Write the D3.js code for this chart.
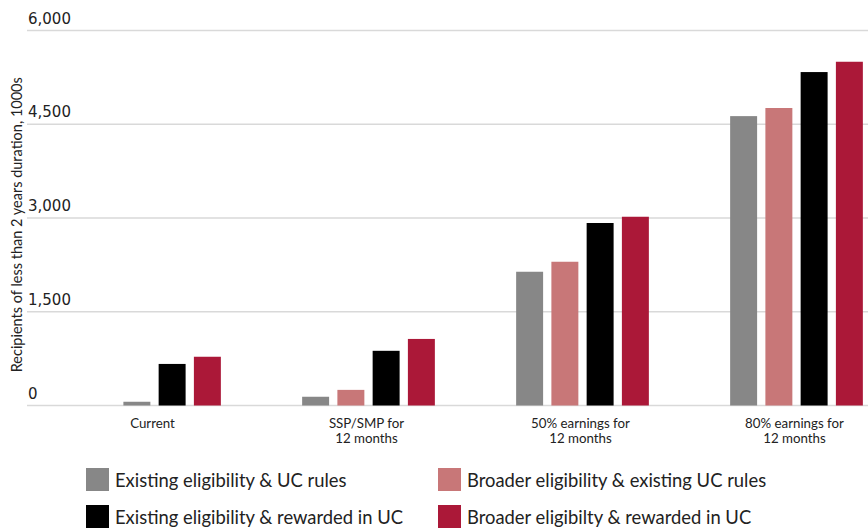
<!DOCTYPE html>
<html>
<head>
<meta charset="utf-8">
<script src="https://cdn.jsdelivr.net/npm/d3@7"></script>
<style>
  body { margin: 0; background: #fff; }
  text { font-family: Lato, "Liberation Sans", sans-serif; fill: #222; }
</style>
</head>
<body>
<div id="chart"></div>
<script>
// Categories and series
const categories = ["Current", "SSP/SMP for\n12 months", "50% earnings for\n12 months", "80% earnings for\n12 months"];
const seriesNames = [
    "Existing eligibility & UC rules",
    "Broader eligibility & existing UC rules",
    "Existing eligibility & rewarded in UC",
    "Broader eligibilty & rewarded in UC"
];
const seriesColors = ["#878787", "#c87778", "#000000", "#ab1838"];

// Values, 1000s (one array per series, in category order)
const existingRules = [null, 140, 2140, 4630];
const broaderRules = [60, 250, 2300, 4760];
const existingRewarded = [665, 875, 2920, 5335];
const broaderRewarded = [780, 1065, 3020, 5500];
const seriesValues = [existingRules, broaderRules, existingRewarded, broaderRewarded];

// In the source, the small "Current" bar in the second slot is drawn grey
const colorOverride = { "0-1": "#878787" };

const yTicks = [0, 1500, 3000, 4500, 6000];

const W = 868, H = 528;
const svg = d3.select("#chart").append("svg")
    .attr("width", W)
    .attr("height", H);

const y = d3.scaleLinear()
    .domain([0, 6000])
    .range([405.5, 30.5]);

const x0 = d3.scaleBand()
    .domain(categories)
    .range([47.5, 903.5])
    .padding(0);

const x1 = d3.scaleBand()
    .domain(d3.range(seriesNames.length))
    .range([0, 141])
    .paddingInner(0.235)
    .paddingOuter(0.1175);

// Gridlines with labels above them
const grid = svg.append("g");
grid.selectAll("line")
    .data(yTicks)
    .enter().append("line")
    .attr("x1", 27)
    .attr("x2", W)
    .attr("y1", d => y(d))
    .attr("y2", d => y(d))
    .attr("stroke", "#d9d9d9")
    .attr("stroke-width", 1.3);

grid.selectAll("text")
    .data(yTicks)
    .enter().append("text")
    .attr("x", 28)
    .attr("y", d => y(d) - 7)
    .attr("font-size", 15)
    .style("font-family", "'DejaVu Sans', sans-serif")
    .text(d => d3.format(",")(d));

// Y axis title
svg.append("text")
    .attr("transform", `translate(22,${(y(0) + 40) / 2 + 2}) rotate(-90)`)
    .attr("text-anchor", "middle")
    .attr("font-size", 14.5)
    .text("Recipients of less than 2 years duration, 1000s");

// Bars
const bars = [];
categories.forEach((c, ci) => {
    seriesValues.forEach((vals, si) => {
        if (vals[ci] != null) bars.push({ ci, si, cat: c, value: vals[ci] });
    });
});

svg.append("g").selectAll("rect")
    .data(bars)
    .enter().append("rect")
    .attr("x", d => x0(d.cat) + x0.bandwidth() / 2 - 70.5 + x1(d.si))
    .attr("width", x1.bandwidth())
    .attr("y", d => y(d.value))
    .attr("height", d => y(0) - y(d.value))
    .attr("fill", d => colorOverride[`${d.ci}-${d.si}`] || seriesColors[d.si]);

// Category labels
const catLabels = svg.append("g").selectAll("text")
    .data(categories)
    .enter().append("text")
    .attr("text-anchor", "middle")
    .attr("font-size", 13.3)
    .attr("x", d => x0(d) + x0.bandwidth() / 2 - 2)
    .attr("y", 428);

catLabels.selectAll("tspan")
    .data(d => d.split("\n"))
    .enter().append("tspan")
    .attr("x", function () { return d3.select(this.parentNode).attr("x"); })
    .attr("dy", (d, i) => i === 0 ? 0 : 15)
    .text(d => d);

// Legend, two columns by two rows
const legend = svg.append("g").selectAll("g")
    .data(seriesNames)
    .enter().append("g")
    .attr("transform", (d, i) => `translate(${i % 2 === 0 ? 86 : 438},${i < 2 ? 468 : 505})`);

legend.append("rect")
    .attr("width", 23)
    .attr("height", 23)
    .attr("fill", (d, i) => seriesColors[i]);

legend.append("text")
    .attr("x", 29)
    .attr("y", 19)
    .attr("font-size", 18.4)
    .text(d => d);
</script>
</body>
</html>
